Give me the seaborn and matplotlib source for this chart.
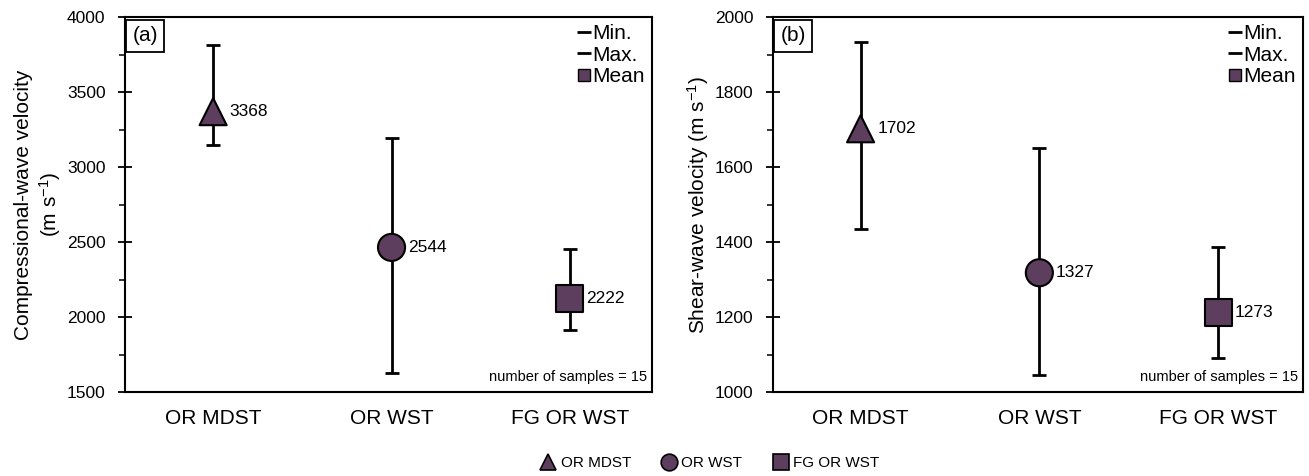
import matplotlib
matplotlib.use("Agg")
import matplotlib.pyplot as plt
import seaborn as sns
import pandas as pd
from matplotlib.lines import Line2D
from matplotlib.ticker import MultipleLocator

# ---------------- data ----------------
categories = ["OR MDST", "OR WST", "FG OR WST"]
markers = ["^", "o", "s"]

# panel (a) compressional-wave velocity
vp_mean = [3369, 2464, 2122]          # plotted marker positions
vp_min = [3149, 1629, 1916]
vp_max = [3815, 3196, 2456]
vp_labels = ["3368", "2544", "2222"]

# panel (b) shear-wave velocity
vs_mean = [1702, 1318, 1211]
vs_min = [1435, 1045, 1091]
vs_max = [1933, 1651, 1387]
vs_labels = ["1702", "1327", "1273"]

n_samples = 15

# ---------------- style ----------------
sns.set_theme(style="ticks")
plt.rcParams["font.family"] = ["Liberation Sans", "DejaVu Sans"]
plt.rcParams["mathtext.fontset"] = "custom"
plt.rcParams["mathtext.rm"] = "Liberation Sans"
plt.rcParams["mathtext.it"] = "Liberation Sans:italic"
for k in ["text.color", "axes.labelcolor", "xtick.color", "ytick.color",
          "xtick.labelcolor", "ytick.labelcolor"]:
    plt.rcParams[k] = "black"

fill = "#5e3e5e"
fig = plt.figure(figsize=(13.09, 4.76), dpi=100)
ax_a = fig.add_axes([125 / 1309, 84 / 476, 527 / 1309, 375 / 476])
ax_b = fig.add_axes([773 / 1309, 84 / 476, 530 / 1309, 375 / 476])


def draw_panel(ax, means, mins, maxs, labels, ylim, major, minor, ylabel, tag, xlim):
    df = pd.DataFrame({"pos": range(len(categories)), "mean": means,
                       "min": mins, "max": maxs, "cat": categories})
    # range bars
    ax.errorbar(df["pos"], df["mean"],
                yerr=[df["mean"] - df["min"], df["max"] - df["mean"]],
                fmt="none", ecolor="black", elinewidth=2.0, capsize=5,
                capthick=2.0, zorder=2)
    # mean markers via seaborn
    sns.scatterplot(data=df, x="pos", y="mean", style="cat",
                    markers=dict(zip(categories, markers)),
                    s=19.5 ** 2, color=fill, edgecolor="black", linewidth=1.5,
                    legend=False, ax=ax, zorder=3)
    for p, m, lab in zip(df["pos"], df["mean"], labels):
        ax.annotate(lab, (p, m), xytext=(12, 0), textcoords="offset points",
                    ha="left", va="center", fontsize=12.5, color="black")
    ax.set_xlim(*xlim)
    ax.set_ylim(*ylim)
    ax.set_xticks(range(len(categories)))
    ax.set_xticklabels(categories, fontsize=15)
    ax.tick_params(axis="x", length=0, pad=12)
    ax.yaxis.set_major_locator(MultipleLocator(major))
    ax.yaxis.set_minor_locator(MultipleLocator(minor))
    ax.tick_params(axis="y", which="major", direction="inout", length=10,
                   width=1.3, labelsize=12.5, pad=9)
    ax.tick_params(axis="y", which="minor", direction="out", length=4, width=1.1)
    ax.set_xlabel("")
    ax.set_ylabel(ylabel, fontsize=15, labelpad=3)
    for sp in ax.spines.values():
        sp.set_visible(True)
        sp.set_linewidth(1.5)
        sp.set_color("black")
    ax.text(0.014, 0.975, tag, transform=ax.transAxes, ha="left", va="top",
            fontsize=15,
            bbox=dict(boxstyle="square,pad=0.3", fc="white", ec="black", lw=1.3))
    ax.text(0.99, 0.02, f"number of samples = {n_samples}", transform=ax.transAxes,
            ha="right", va="bottom", fontsize=10.5)
    handles = [Line2D([], [], color="black", marker="_", ls="none",
                      markersize=10, markeredgewidth=2),
               Line2D([], [], color="black", marker="_", ls="none",
                      markersize=10, markeredgewidth=2),
               Line2D([], [], color=fill, marker="s", ls="none",
                      markersize=9, markeredgecolor="black", markeredgewidth=1)]
    ax.legend(handles, ["Min.", "Max.", "Mean"], loc="upper right",
              frameon=False, fontsize=15, handlelength=0.6,
              handletextpad=0.1, labelspacing=0.12, borderaxespad=0.15,
              borderpad=0.2)


draw_panel(ax_a, vp_mean, vp_min, vp_max, vp_labels, (1500, 4000), 500, 250,
           "Compressional-wave velocity\n(m s$^{-1}$)", "(a)", (-0.494, 2.46))
draw_panel(ax_b, vs_mean, vs_min, vs_max, vs_labels, (1000, 2000), 200, 100,
           "Shear-wave velocity (m s$^{-1}$)", "(b)", (-0.49, 2.475))

# bottom legend
leg_handles = [Line2D([], [], color=fill, marker=mk, ls="none", markersize=12,
                      markeredgecolor="black", markeredgewidth=1.2)
               for mk in markers]
fig.legend(leg_handles, categories, loc="center", ncol=3,
           bbox_to_anchor=(710 / 1309, 13 / 476), frameon=False, fontsize=11,
           handletextpad=0.3, columnspacing=2.0, handlelength=1.0)

fig.savefig("out.png", dpi=100)
